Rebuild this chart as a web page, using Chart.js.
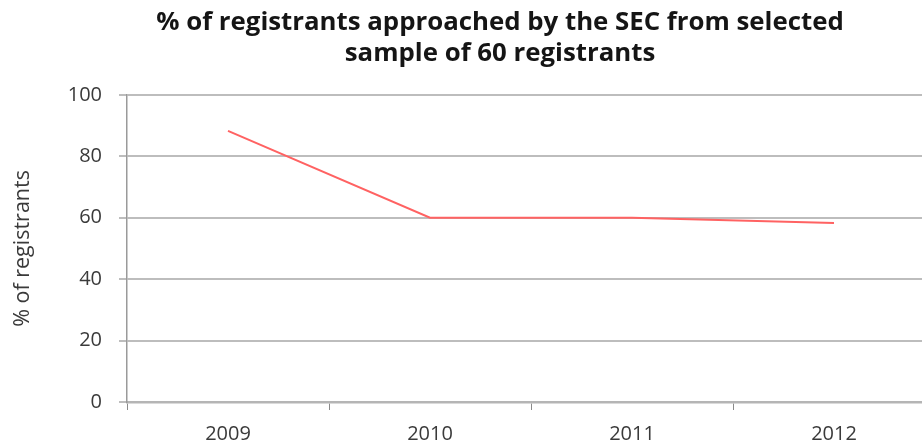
<!DOCTYPE html>
<html>
<head>
<meta charset="utf-8">
<script src="https://cdn.jsdelivr.net/npm/chart.js@4/dist/chart.umd.min.js"></script>
<style>
  html, body { margin: 0; padding: 0; background: #fff; overflow: hidden; }
  #wrap { width: 1000px; height: 444px; }
</style>
</head>
<body>
<div id="wrap"><canvas id="c" width="1000" height="444"></canvas></div>
<script>
const titleLines = ['% of registrants approached by the SEC from selected', 'sample of 60 registrants'];
const yAxisTitle = '% of registrants';
const categories = ['2009', '2010', '2011', '2012'];
const seriesValues = [88.3, 60, 60, 58.3];
const yTicks = [0, 20, 40, 60, 80, 100];

new Chart(document.getElementById('c'), {
  type: 'line',
  data: {
    labels: categories,
    datasets: [{
      data: seriesValues,
      borderColor: '#ff6262',
      borderWidth: 2,
      pointRadius: 0,
      tension: 0,
      fill: false,
      yAxisID: 'y'
    }]
  },
  options: {
    responsive: false,
    animation: false,
    layout: { padding: 0 },
    plugins: {
      legend: { display: false },
      tooltip: { enabled: false },
      title: {
        display: true,
        text: titleLines,
        color: '#151515',
        font: { family: 'Open Sans', size: 25.8, weight: 'bold', lineHeight: 1.2 },
        padding: { top: 7, bottom: 26 }
      }
    },
    scales: {
      x: {
        offset: true,
        grid: {
          offset: true,
          drawOnChartArea: false,
          drawTicks: true,
          tickLength: 8,
          color: '#8a8a8a',
          lineWidth: 1
        },
        border: { display: true, color: '#b5b5b5', width: 2.5 },
        ticks: {
          color: '#3a3a3a',
          font: { family: 'Open Sans', size: 20 },
          padding: 12,
          maxRotation: 0
        },
        afterFit: (s) => { s.height = 42; }
      },
      y: {
        position: 'left',
        min: 0,
        max: 100,
        afterBuildTicks: (s) => { s.ticks = yTicks.map(v => ({ value: v })); },
        grid: {
          color: '#bdbdbd',
          lineWidth: 2,
          drawTicks: true,
          tickLength: 8
        },
        border: { display: true, color: '#9a9a9a', width: 1.5 },
        ticks: {
          color: '#3a3a3a',
          font: { family: 'Open Sans', size: 20 },
          padding: 17
        },
        title: {
          display: true,
          text: yAxisTitle,
          color: '#3a3a3a',
          font: { family: 'Open Sans', size: 21.5 },
          padding: { top: 10, bottom: 0 }
        },
        afterFit: (s) => { s.width = 127; }
      },
      spacer: {
        type: 'linear',
        position: 'right',
        display: true,
        min: 0,
        max: 100,
        grid: { display: false, drawOnChartArea: false, drawTicks: false },
        border: { display: false },
        ticks: { display: false },
        afterFit: (s) => { s.width = 65; }
      }
    }
  }
});
</script>
</body>
</html>
